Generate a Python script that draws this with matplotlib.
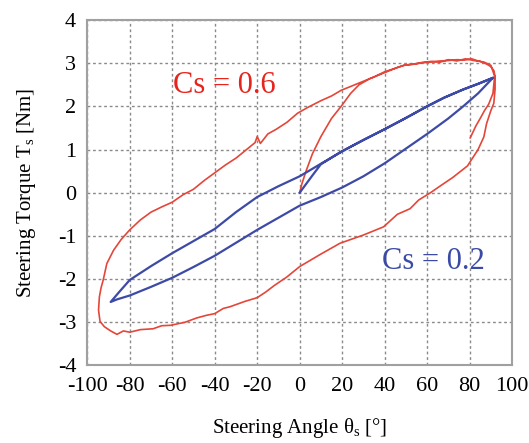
import numpy as np
import matplotlib
matplotlib.use('Agg')
import matplotlib.pyplot as plt

plt.rcParams['font.family'] = ['Liberation Serif', 'DejaVu Serif']
plt.rcParams['mathtext.fontset'] = 'custom'
plt.rcParams['mathtext.rm'] = 'Liberation Serif'
plt.rcParams['mathtext.it'] = 'Liberation Serif:italic'
plt.rcParams['axes.unicode_minus'] = False

# Cs = 0.6 (red) - angle [deg], torque [Nm], in drawing order
red_ang = [0, 1, 3, 6, 10, 15, 20, 24, 28,
           33, 38, 42, 46, 50, 54, 58, 62, 66, 70, 74, 78, 82, 85, 88, 90, 91.5, 92,
           92, 91.4, 90, 88, 86.7, 84, 79, 72, 66, 61.6, 56, 52, 46, 39.5, 30, 19, 10, 0,
           -6, -12, -16, -20, -26, -32.8, -36, -40, -44, -48.5, -54, -60.8, -65, -69, -75, -80, -83, -86, -89, -92, -94, -94.7,
           -94.3, -93.5, -92.5, -90.8, -87.6, -84, -80, -75, -70, -65, -60, -55, -50, -45, -40, -35, -30, -25, -21, -20, -18.5, -15, -11, -6, -1, 4, 10, 15, 19.5, 25, 30,
           35, 40, 45, 49, 53, 57, 62, 66, 70, 74, 77.7, 81, 84, 87, 90, 91.8,
           91, 89, 87, 85, 83, 80.3]
red_trq = [0, 0.2, 0.5, 0.9, 1.3, 1.72, 2.03, 2.3, 2.5,
           2.64, 2.74, 2.82, 2.9, 2.96, 2.98, 3.02, 3.04, 3.02, 3.08, 3.05, 3.1, 3.06, 3.04, 2.98, 2.92, 2.82, 2.68,
           2.4, 2.07, 1.9, 1.6, 1.29, 1.0, 0.62, 0.35, 0.15, 0.0, -0.17, -0.37, -0.5, -0.79, -0.98, -1.17, -1.42, -1.71,
           -1.95, -2.15, -2.3, -2.43, -2.52, -2.64, -2.68, -2.8, -2.84, -2.9, -3.0, -3.07, -3.08, -3.15, -3.17, -3.23, -3.2, -3.28, -3.2, -3.1, -2.98, -2.72,
           -2.41, -2.2, -2.02, -1.64, -1.33, -1.08, -0.86, -0.63, -0.45, -0.33, -0.22, -0.05, 0.08, 0.28, 0.46, 0.64, 0.8, 1.0, 1.16, 1.3, 1.14, 1.36, 1.47, 1.63, 1.84, 1.98, 2.13, 2.24, 2.37, 2.48, 2.58,
           2.68, 2.8, 2.88, 2.95, 2.97, 3.0, 3.03, 3.05, 3.06, 3.08, 3.07, 3.1, 3.05, 3.02, 2.95, 2.7,
           2.3, 2.05, 1.9, 1.72, 1.55, 1.27]

# Cs = 0.2 (blue)
blue_ang = [0, 3, 6, 10,
            20, 30, 40, 50, 60, 68, 77, 84, 91,
            84, 77, 70, 60, 50, 40, 30, 20, 10, 0, -10, -20, -30, -40, -50, -60, -70, -80, -86, -89,
            -85, -80, -70, -60, -50, -40, -30, -20, -10, 0, 10, 20, 30, 40, 50, 60, 68, 77, 84, 91]
blue_trq = [0, 0.2, 0.4, 0.66,
            0.96, 1.22, 1.47, 1.73, 2.0, 2.2, 2.39, 2.52, 2.66,
            2.3, 2.0, 1.72, 1.36, 1.02, 0.68, 0.38, 0.12, -0.1, -0.3, -0.58, -0.86, -1.16, -1.46, -1.72, -1.97, -2.18, -2.38, -2.47, -2.53,
            -2.3, -2.02, -1.7, -1.4, -1.12, -0.84, -0.45, -0.1, 0.15, 0.38, 0.67, 0.96, 1.22, 1.47, 1.73, 2.0, 2.2, 2.39, 2.52, 2.66]

fig = plt.figure(figsize=(5.29, 4.43), dpi=100)
ax = fig.add_axes([0.165, 0.175, 0.803, 0.780])

ax.plot(red_ang, red_trq, color='#e4463a', lw=1.2)
ax.plot(blue_ang, blue_trq, color='#3d4aa6', lw=1.6)

ax.text(-35.7, 2.49, 'Cs = 0.6', color='#e8231c', fontsize=22, ha='center', va='center')
ax.text(63, -1.6, 'Cs = 0.2', color='#3a4aa6', fontsize=22, ha='center', va='center')

ax.set_xlim(-100, 100)
ax.set_ylim(-4, 4)
ax.set_xticks(np.arange(-100, 101, 20))
ax.set_yticks(np.arange(-4, 5, 1))
ax.grid(True, color='#8a8a8a', linestyle=(0, (2, 2)), lw=1.0)
ax.set_axisbelow(True)
ax.tick_params(length=0, labelsize=16, pad=8)
for s in ax.spines.values():
    s.set_color('#a0a0a0')
    s.set_linewidth(1.5)

ax.set_xlabel('Steering Angle θ$_\\mathrm{s}$ [°]', fontsize=15, labelpad=15)
ax.set_ylabel('Steering Torque T$_\\mathrm{s}$ [Nm]', fontsize=15, labelpad=14)

plt.savefig('out.png', dpi=100)
